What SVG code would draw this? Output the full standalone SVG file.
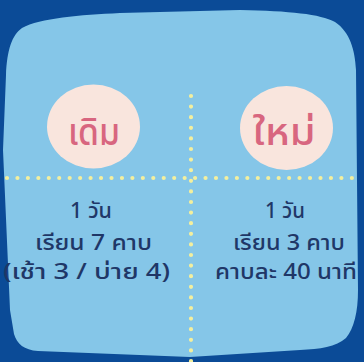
<svg xmlns="http://www.w3.org/2000/svg" width="364" height="362" viewBox="0 0 364 362">
<style>
.dots{fill:none;stroke:#f3ef9e;stroke-width:4.2;stroke-linecap:round;}
.bubble{fill:#f9e5dd;}
.head{font-family:"Noto Sans Thai","Noto Sans",sans-serif;font-size:37px;font-weight:500;fill:#d8667f;text-anchor:middle;}
.body{font-family:"Noto Sans Thai","Noto Sans",sans-serif;font-size:21.5px;font-weight:500;fill:#1f3767;text-anchor:middle;}
</style>
<rect width="364" height="362" fill="#0b4b97"/>
<path d="M22,28 C40,18 80,15 120,13 L240,10 C290,11 320,14 335,22 C350,32 355,50 356,70 L358,290 C358,312 354,328 346,338 C336,347 320,349 300,350 L190,357 L38,351 C24,350 17,344 14,334 L10,310 L3,150 L6,75 C7,50 12,35 22,28 Z" fill="#85c6e8"/>
<g id="connectors">
<path class="dots" stroke-dasharray="0 10.6" d="M191,96 L191,362"/>
<path class="dots" stroke-dasharray="0 10.45" d="M7,178 L358,178"/>
</g>
<g id="old">
<ellipse class="bubble" cx="93.5" cy="126.5" rx="46.5" ry="42"/>
<text class="head" x="94" y="145" textLength="52" lengthAdjust="spacingAndGlyphs">เดิม</text>
</g>
<g id="new">
<ellipse class="bubble" cx="286.5" cy="128" rx="46.5" ry="42"/>
<text class="head" x="284" y="145" textLength="63" lengthAdjust="spacingAndGlyphs">ใหม่</text>
</g>
<g id="old-text">
<text class="body" x="91" y="218" textLength="42" lengthAdjust="spacingAndGlyphs">1 วัน</text>
<text class="body" x="93.5" y="250" textLength="117" lengthAdjust="spacingAndGlyphs">เรียน 7 คาบ</text>
<text class="body" x="86.5" y="279" textLength="167" lengthAdjust="spacingAndGlyphs">(เช้า 3 / บ่าย 4)</text>
</g>
<g id="new-text">
<text class="body" x="285" y="218" textLength="40" lengthAdjust="spacingAndGlyphs">1 วัน</text>
<text class="body" x="289" y="250" textLength="112" lengthAdjust="spacingAndGlyphs">เรียน 3 คาบ</text>
<text class="body" x="286" y="279" textLength="142" lengthAdjust="spacingAndGlyphs">คาบละ 40 นาที</text>
</g>
</svg>
